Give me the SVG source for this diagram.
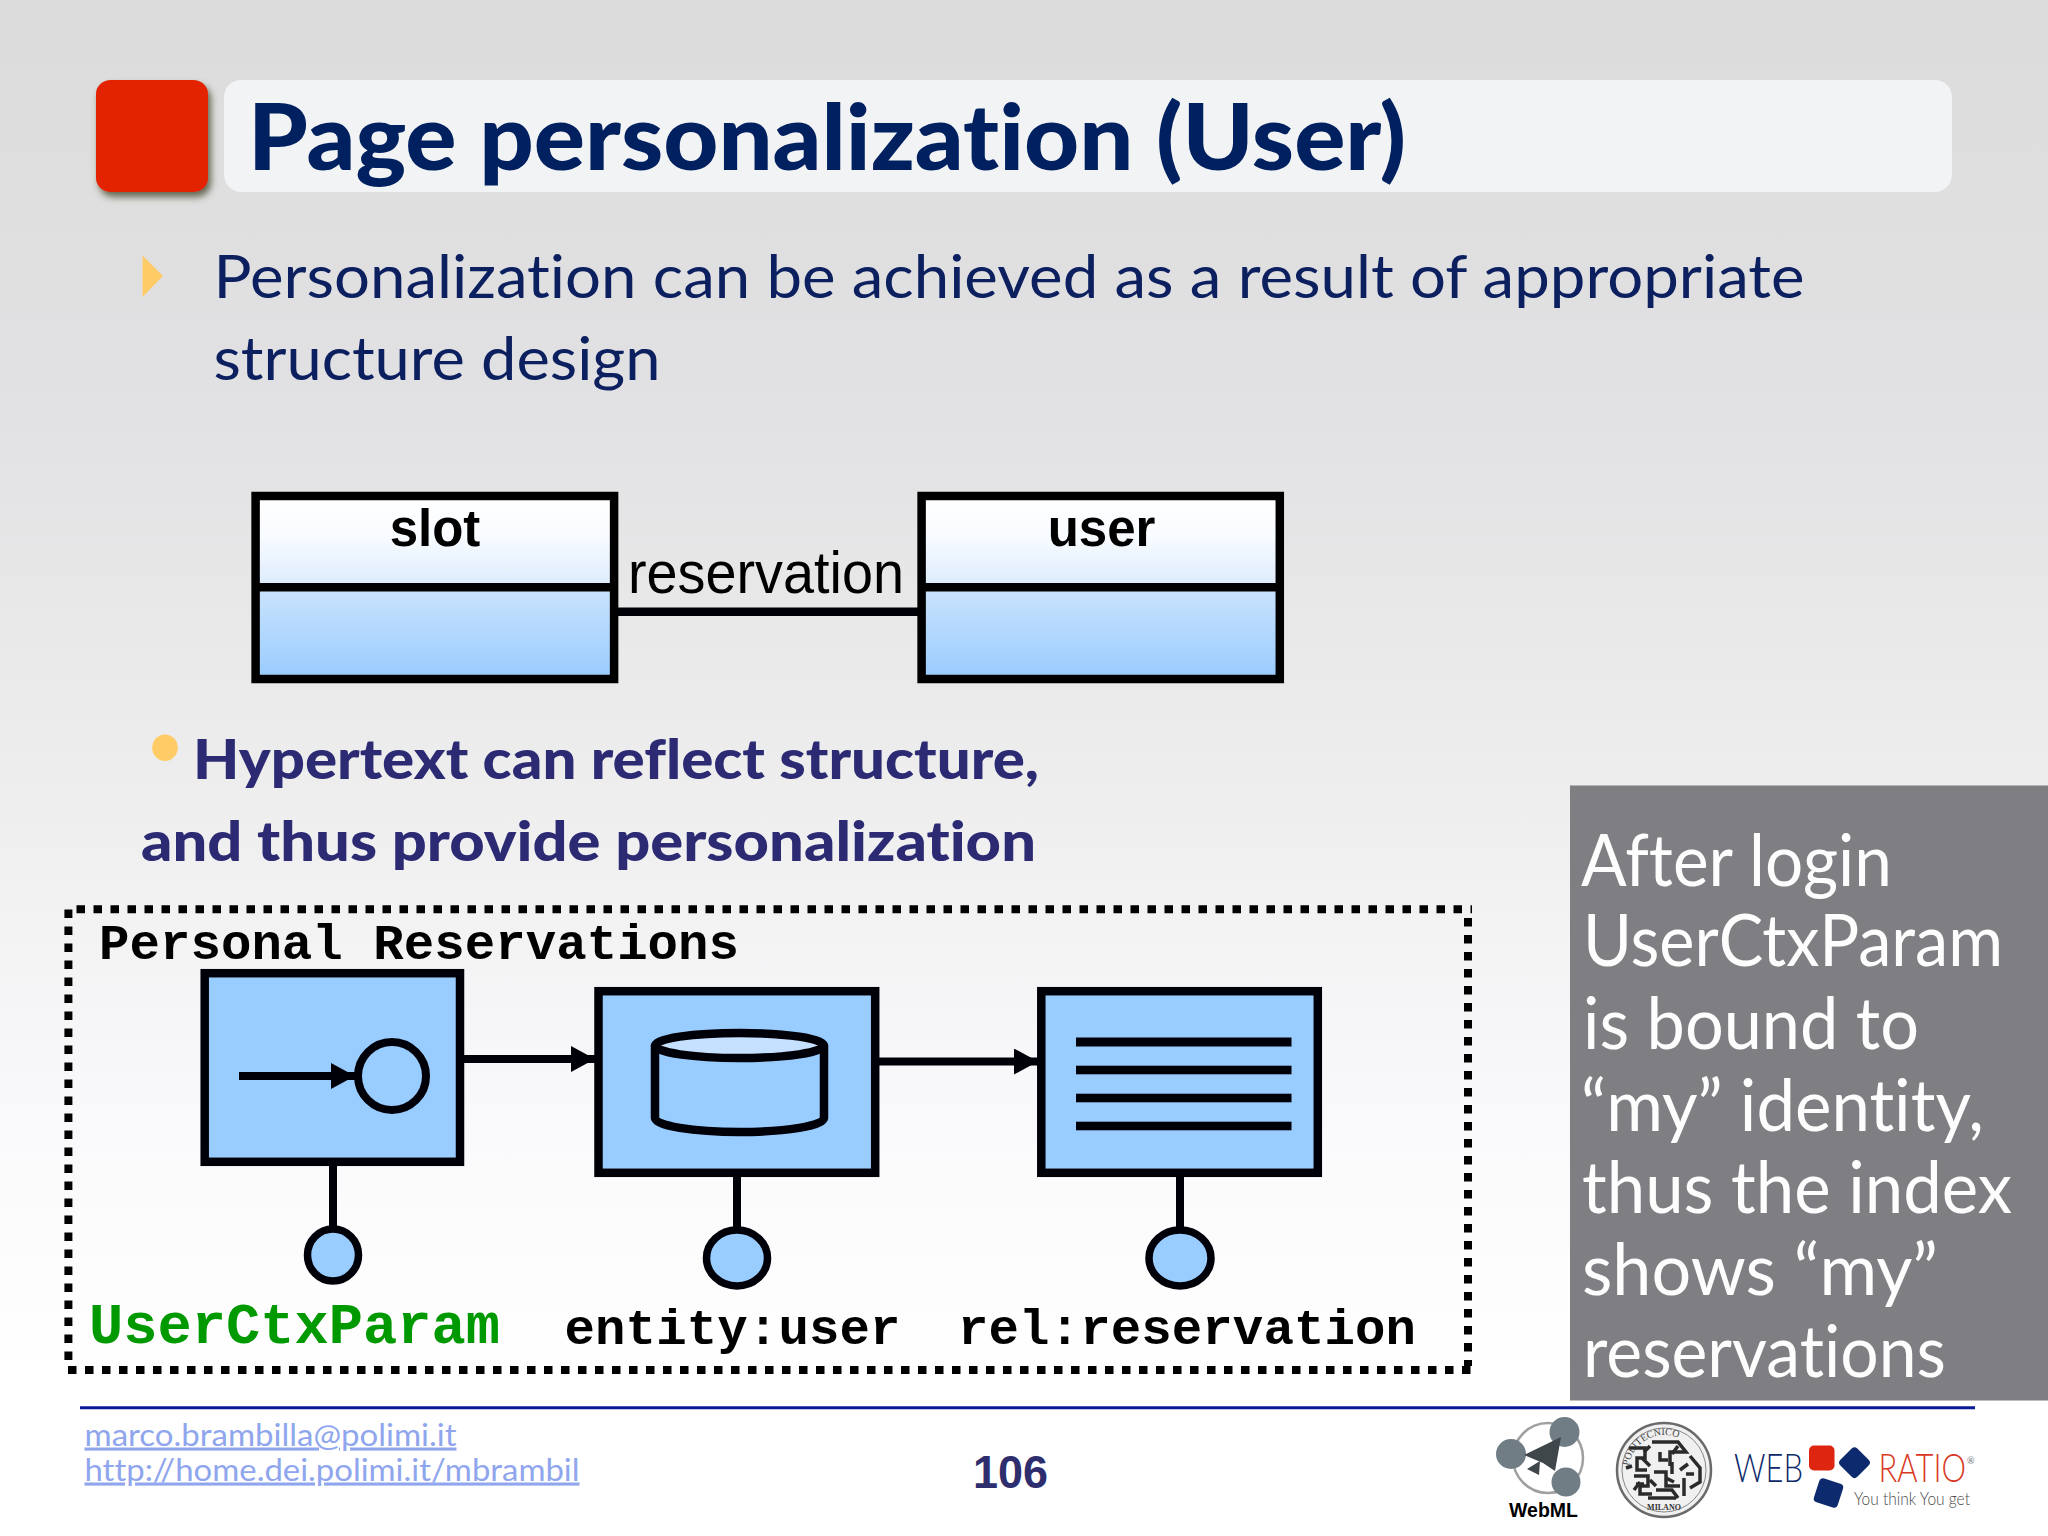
<svg xmlns="http://www.w3.org/2000/svg" width="2048" height="1536" viewBox="0 0 2048 1536">
<style>
.lato{font-family:Lato,"Liberation Sans",sans-serif;font-variant-ligatures:none}
.title{font-size:92px;font-weight:900;fill:#002060}
.body{font-size:60px;fill:#0c2060}
.sub{font-size:56px;font-weight:900;fill:#2b2a73}
.side{font-size:72px;fill:#fdfdfd}
.link{font-size:31px;fill:#8fa6ee}
.ent{font-family:"Liberation Sans",Arial,sans-serif;font-size:50px;font-weight:700;fill:#000;text-anchor:middle}
.mono{font-family:"Liberation Mono","Courier New",monospace;font-weight:700;font-size:50.7px;fill:#000}
.box{fill:#99ccff;stroke:#000008;stroke-width:8.5}
.ln{stroke:#000008;stroke-width:8;fill:none}
.dash{stroke:#000;stroke-width:8;stroke-dasharray:8.5 8.5;fill:none}
.frame{fill:none;stroke:#000;stroke-width:8.5}
.ball{fill:#99ccff;stroke:#000008;stroke-width:7.5}
</style>
<defs>
<linearGradient id="bg" x1="0" y1="0" x2="0" y2="1">
<stop offset="0" stop-color="#dcdcdc"/><stop offset="0.25" stop-color="#e1e1e3"/><stop offset="0.5" stop-color="#ededee"/><stop offset="0.72" stop-color="#f9f9fb"/><stop offset="0.9" stop-color="#ffffff"/>
</linearGradient>
<linearGradient id="top" x1="0" y1="0" x2="0" y2="1"><stop offset="0" stop-color="#ffffff"/><stop offset="0.45" stop-color="#f8fbff"/><stop offset="1" stop-color="#dcebfd"/></linearGradient>
<linearGradient id="low" x1="0" y1="0" x2="0" y2="1"><stop offset="0" stop-color="#cbe3fd"/><stop offset="1" stop-color="#99ccff"/></linearGradient>
<filter id="sh" x="-20%" y="-20%" width="140%" height="140%"><feDropShadow dx="3" dy="5" stdDeviation="3.5" flood-color="#3c3c20" flood-opacity="0.75"/></filter>
<filter id="soft"><feGaussianBlur stdDeviation="0.6"/></filter>
<marker id="ah" markerUnits="userSpaceOnUse" markerWidth="24" markerHeight="26" refX="24" refY="13" orient="auto"><path d="M0 0L24 13L0 26Z" fill="#000008"/></marker>
<path id="sealarc" d="M1629 1470A35 35 0 0 1 1699 1470"/>
</defs>
<rect id="background" width="2048" height="1536" fill="url(#bg)"/>

<g id="header">
<rect x="96" y="80" width="112" height="112" rx="15" ry="14" fill="#e32000" filter="url(#sh)"/>
<rect x="224" y="80" width="1728" height="112" rx="17" fill="#f2f3f4"/>
<text class="lato title" x="248" y="170" textLength="1158" lengthAdjust="spacingAndGlyphs">Page personalization (User)</text>
</g>

<g id="intro">
<path d="M142.5 255.5L163 276L142.5 297Z" fill="#ffcb66"/>
<text class="lato body" x="213.5" y="298" textLength="1591" lengthAdjust="spacingAndGlyphs">Personalization can be achieved as a result of appropriate</text>
<text class="lato body" x="213.5" y="380" textLength="447" lengthAdjust="spacingAndGlyphs">structure design</text>
</g>

<g id="connectors">
<line class="ln" x1="618" y1="611.7" x2="918" y2="611.7" style="stroke-width:8.5"/>
<line class="ln" x1="464" y1="1059" x2="595" y2="1059" marker-end="url(#ah)"/>
<line class="ln" x1="879" y1="1061.5" x2="1038" y2="1061.5" marker-end="url(#ah)"/>
<line class="ln" x1="333" y1="1166" x2="333" y2="1230"/>
<line class="ln" x1="737" y1="1177" x2="737" y2="1230"/>
<line class="ln" x1="1180" y1="1177" x2="1180" y2="1230"/>
</g>

<g id="slot">
<rect x="255.5" y="496" width="358.5" height="91" fill="url(#top)"/>
<rect x="255.5" y="587" width="358.5" height="92" fill="url(#low)"/>
<rect class="frame" x="255.6" y="496" width="358.5" height="183"/>
<line class="frame" x1="255.6" y1="587.3" x2="614" y2="587.3"/>
<text class="ent" x="435" y="546" style="font-size:51px">slot</text>
</g>
<text id="reservation-label" x="628" y="593" font-family="'Liberation Sans',Arial,sans-serif" font-size="60" fill="#000" textLength="276" lengthAdjust="spacingAndGlyphs">reservation</text>
<g id="user">
<rect x="921.5" y="496" width="358.5" height="91" fill="url(#top)"/>
<rect x="921.5" y="587" width="358.5" height="92" fill="url(#low)"/>
<rect class="frame" x="921.6" y="496" width="358.2" height="183"/>
<line class="frame" x1="921.6" y1="587.3" x2="1280" y2="587.3"/>
<text class="ent" x="1101.5" y="546" style="font-size:51px">user</text>
</g>

<g id="hypertext">
<ellipse cx="165" cy="747.7" rx="12.8" ry="13.3" fill="#ffcb66"/>
<text class="lato sub" x="193" y="779" textLength="846" lengthAdjust="spacingAndGlyphs">Hypertext can reflect structure,</text>
<text class="lato sub" x="141" y="861" textLength="895" lengthAdjust="spacingAndGlyphs">and thus provide personalization</text>
</g>

<g id="page">
<line class="dash" x1="76.5" y1="909.3" x2="1472" y2="909.3"/>
<line class="dash" x1="68.4" y1="909.5" x2="68.4" y2="1366"/>
<line class="dash" x1="68" y1="1370" x2="1472" y2="1370"/>
<line class="dash" x1="1468" y1="918" x2="1468" y2="1366"/>
<text class="mono" x="99" y="959" textLength="640">Personal Reservations</text>
</g>

<g id="entry-unit">
<rect class="box" x="204.7" y="973.2" width="255.3" height="188.6"/>
<line class="ln" x1="239" y1="1076" x2="355" y2="1076" marker-end="url(#ah)"/>
<circle cx="392" cy="1076" r="34" fill="#99ccff" stroke="#000008" stroke-width="8"/>
<ellipse class="ball" cx="333" cy="1255" rx="25.5" ry="26"/>
<text class="mono" x="89" y="1342.5" style="font-size:57px;fill:#009900" textLength="411">UserCtxParam</text>
</g>

<g id="data-unit">
<rect class="box" x="598.5" y="991.2" width="276.7" height="181.6"/>
<path d="M655 1045.5V1118A84.5 14 0 0 0 824 1118V1045.5" fill="#99ccff" stroke="#000008" stroke-width="8.5"/>
<ellipse cx="739.5" cy="1045.5" rx="84.5" ry="12.5" fill="#c6e1ff" stroke="#000008" stroke-width="8.5"/>
<ellipse class="ball" cx="737" cy="1258" rx="30.5" ry="28"/>
<text class="mono" x="564.5" y="1344" textLength="336">entity:user</text>
</g>

<g id="index-unit">
<rect class="box" x="1041.3" y="991.2" width="276.5" height="181.6"/>
<g fill="#000008">
<rect x="1076" y="1037.5" width="215.5" height="9"/>
<rect x="1076" y="1065.7" width="215.5" height="8.6"/>
<rect x="1076" y="1093.7" width="215.5" height="8.6"/>
<rect x="1076" y="1121.7" width="215.5" height="8.6"/>
</g>
<ellipse class="ball" cx="1180" cy="1258" rx="31" ry="28"/>
<text class="mono" x="958" y="1344" textLength="458">rel:reservation</text>
</g>

<g id="note">
<rect x="1570" y="785.5" width="478" height="615" fill="#7f7e82"/>
<g class="lato side">
<text x="1581" y="886" textLength="311" lengthAdjust="spacingAndGlyphs">After login</text>
<text x="1583" y="966" textLength="420" lengthAdjust="spacingAndGlyphs">UserCtxParam</text>
<text x="1583" y="1049" textLength="336" lengthAdjust="spacingAndGlyphs">is bound to</text>
<text x="1581" y="1131" textLength="403" lengthAdjust="spacingAndGlyphs">“my” identity,</text>
<text x="1582" y="1213" textLength="430" lengthAdjust="spacingAndGlyphs">thus the index</text>
<text x="1582" y="1294.5" textLength="356" lengthAdjust="spacingAndGlyphs">shows “my”</text>
<text x="1583" y="1376.5" textLength="363" lengthAdjust="spacingAndGlyphs">reservations</text>
</g>
</g>

<g id="footer">
<line x1="80" y1="1407.7" x2="1975" y2="1407.7" stroke="#0a1a96" stroke-width="3"/>
<text class="lato link" x="84.5" y="1445.5" textLength="372" lengthAdjust="spacingAndGlyphs" text-decoration="underline">marco.brambilla@polimi.it</text>
<text class="lato link" x="84.5" y="1480.5" textLength="495" lengthAdjust="spacingAndGlyphs" text-decoration="underline">http://home.dei.polimi.it/mbrambil</text>
<text x="973" y="1487.7" font-family="'Liberation Sans',Arial,sans-serif" font-weight="700" font-size="46" fill="#2e2e6e" textLength="75" lengthAdjust="spacingAndGlyphs">106</text>
</g>

<g id="webml-logo">
<g filter="url(#soft)">
<circle cx="1548" cy="1458" r="35" fill="none" stroke="#a0a0a0" stroke-width="2.5"/>
<circle cx="1511" cy="1454" r="15" fill="#6f7d85"/>
<circle cx="1564.5" cy="1432" r="15" fill="#6f7d85"/>
<circle cx="1566" cy="1482" r="14.5" fill="#6f7d85"/>
<path d="M1561 1437L1524 1455L1543 1463L1555 1471Z" fill="#3f464b"/>
<path d="M1527 1469L1540 1461L1539 1475Z" fill="#3f464b"/>
</g>
<text x="1509" y="1517" font-family="'Liberation Sans',Arial,sans-serif" font-weight="700" font-size="20" fill="#000" textLength="69" lengthAdjust="spacingAndGlyphs">WebML</text>
</g>

<g id="polimi-seal">
<g filter="url(#soft)">
<ellipse cx="1664" cy="1470" rx="47" ry="47" fill="#f0f0f0" stroke="#6a6a6a" stroke-width="2.5"/>
<circle cx="1664" cy="1470" r="42" fill="none" stroke="#888" stroke-width="1"/>
<g fill="none" stroke="#2a2a2a" stroke-width="3.5">
<path d="M1629 1448h16v10h-8v12h10M1652 1442h26l8 10h-16v14M1690 1456l10 12v14l-10 6"/>
<path d="M1634 1476h14v10h-8v8h12M1654 1472h12v14h14M1672 1462v12M1656 1490h16l6 8M1684 1478v18M1642 1458l8 8M1694 1474h-8"/>
<path d="M1648 1498h28M1660 1452v8h8M1634 1490l6-8M1650 1480l6 6M1678 1446l-6 8M1626 1468l6-2M1688 1464l-8 6M1666 1478l8 4M1644 1452l6-6M1636 1484h8"/>
</g>
</g>
<text font-family="'Liberation Serif',serif" font-size="10" fill="#444"><textPath href="#sealarc" startOffset="4">POLITECNICO</textPath></text>
<text x="1664" y="1510" text-anchor="middle" font-family="'Liberation Serif',serif" font-size="8" font-weight="700" fill="#333">MILANO</text>
</g>

<g id="webratio-logo">
<text x="1734" y="1482" class="lato" font-size="40" font-weight="300" fill="#0e2a6a" textLength="69" lengthAdjust="spacingAndGlyphs">WEB</text>
<rect x="1809" y="1445.5" width="25.5" height="25" rx="5" fill="#dd2510"/>
<rect x="1842.5" y="1450.7" width="24" height="24" rx="4" fill="#0e2a6e" transform="rotate(45 1854.5 1462.7)"/>
<rect x="1816" y="1480.5" width="25" height="25" rx="4" fill="#0e2a6e" transform="rotate(18 1828.5 1493)"/>
<text x="1878.5" y="1482" class="lato" font-size="40" font-weight="300" fill="#d93a25" textLength="87.5" lengthAdjust="spacingAndGlyphs">RATIO</text>
<text x="1967" y="1464" class="lato" font-size="9" fill="#777">®</text>
<text x="1854" y="1505" class="lato" font-size="18" font-weight="300" fill="#4a4a4a" textLength="116" lengthAdjust="spacingAndGlyphs">You think You get</text>
</g>
</svg>
